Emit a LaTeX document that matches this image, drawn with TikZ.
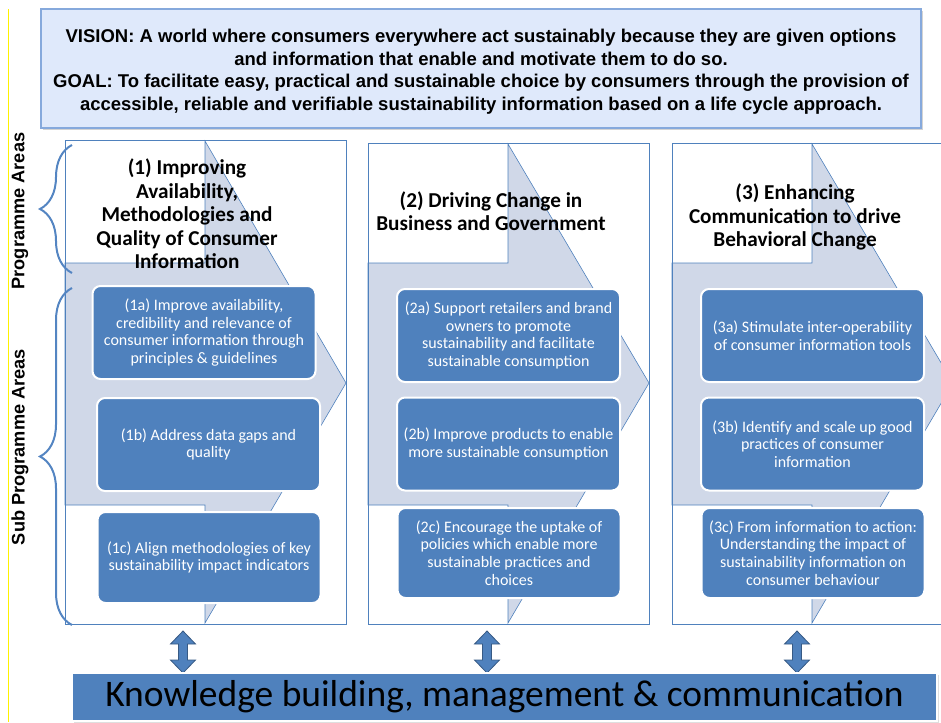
\documentclass[tikz,border=0pt]{standalone}
\usepackage{fontspec}
\usetikzlibrary{shadows,decorations.pathreplacing}
\newfontfamily\calibri{Carlito}
\newfontfamily\arial{Liberation Sans}
\definecolor{boxblue}{HTML}{4F81BD}
\definecolor{chevfill}{HTML}{D0D8E8}
\definecolor{visionfill}{HTML}{DFE9FB}
\definecolor{visionline}{HTML}{86A9DC}
\definecolor{bracecol}{HTML}{5485C2}
\tikzstyle{visionbox}=[draw=visionline,fill=visionfill,line width=1.2pt,drop shadow={shadow xshift=2pt,shadow yshift=-2pt,opacity=0.35}]
\tikzstyle{visiontext}=[align=center,inner sep=0pt,font=\arial\bfseries\fontsize{18.5}{22.5}\selectfont]
\tikzstyle{areatitle}=[align=center,inner sep=0pt,font=\calibri\bfseries\fontsize{21.2}{23.5}\selectfont]
\tikzstyle{subbox}=[rounded corners=8pt,fill=boxblue,draw=white,line width=2pt,text=white,minimum width=223,minimum height=93,inner sep=0pt,align=center,font=\calibri\fontsize{16}{17.6}\selectfont]
\tikzstyle{updown}=[fill=boxblue,draw=boxblue!70!black,line width=0.8pt]
\tikzstyle{sidelabel}=[rotate=90,inner sep=0pt,font=\arial\bfseries\fontsize{18.2}{20}\selectfont]

\begin{document}
\begin{tikzpicture}[x=1pt,y=-1pt]
    \useasboundingbox (0,0) rectangle (941,722);
    \draw[yellow,line width=1.2pt] (8.5,9) -- (8.5,722);

    \filldraw[visionbox] (41,9) rectangle (921,128);
    \node[visiontext] (vision) at (481,71.5) {VISION: A world where consumers everywhere act sustainably because they are given options\\and information that enable and motivate them to do so.\\GOAL: To facilitate easy, practical and sustainable choice by consumers through the provision of\\accessible, reliable and verifiable sustainability information based on a life cycle approach.};

    \foreach \x/\t in {65/141,368/144,672/144}{
        \filldraw[fill=chevfill,draw=boxblue,line width=0.6pt] (\x,263) -- (\x+140,263) -- (\x+140,\t) -- (\x+281,383) -- (\x+140,623) -- (\x+140,505) -- (\x,505) -- cycle;
        \draw[boxblue,line width=1pt] (\x,\t) rectangle (\x+281,624);
    }

    \node[areatitle] (t1) at (187,214) {(1) Improving\\Availability,\\Methodologies and\\Quality of Consumer\\Information};
    \node[areatitle] (t2) at (491,211) {(2) Driving Change in\\Business and Government};
    \node[areatitle] (t3) at (795,217) {(3) Enhancing\\Communication to drive\\Behavioral Change};

    \node[subbox] (s1a) at (204,332.5) {(1a) Improve availability,\\credibility and relevance of\\consumer information through\\principles \& guidelines};
    \node[subbox] (s1b) at (208.5,444.5) {(1b) Address data gaps and\\quality};
    \node[subbox,minimum height=91] (s1c) at (209,557.5) {(1c) Align methodologies of key\\sustainability impact indicators};
    \node[subbox] (s2a) at (508.5,335.5) {(2a) Support retailers and brand\\owners to promote\\sustainability and facilitate\\sustainable consumption};
    \node[subbox] (s2b) at (508.5,444) {(2b) Improve products to enable\\more sustainable consumption};
    \node[subbox,minimum height=90] (s2c) at (509,553) {(2c) Encourage the uptake of\\policies which enable more\\sustainable practices and\\choices};
    \node[subbox] (s3a) at (812.5,335.5) {(3a) Stimulate inter-operability\\of consumer information tools};
    \node[subbox] (s3b) at (812.5,444) {(3b) Identify and scale up good\\practices of consumer\\information};
    \node[subbox,minimum height=90] (s3c) at (813,553) {(3c) From information to action:\\Understanding the impact of\\sustainability information on\\consumer behaviour};

    \node[sidelabel] (pa) at (20,211) {Programme Areas};
    \node[sidelabel] (spa) at (20,447) {Sub Programme Areas};
    \draw[bracecol,line width=2pt,decorate,decoration={brace,amplitude=32pt}] (72,273) -- (72,145);
    \draw[bracecol,line width=2pt,decorate,decoration={brace,amplitude=32pt}] (72,625) -- (72,288);

    \foreach \x in {183,487,797}
        \filldraw[updown] (\x,631) -- (\x+12.5,644) -- (\x+4.5,644) -- (\x+4.5,660) -- (\x+12.5,660) -- (\x,673) -- (\x-12.5,660) -- (\x-4.5,660) -- (\x-4.5,644) -- (\x-12.5,644) -- cycle;

    \node[fill=boxblue,draw=white,line width=2pt,minimum width=865,minimum height=48,inner sep=0pt,font=\calibri\fontsize{37.5}{40}\selectfont,drop shadow={shadow xshift=1.5pt,shadow yshift=-1.5pt,opacity=0.25}] (kb) at (504.5,697) {Knowledge building, management \& communication};
\end{tikzpicture}
\end{document}
